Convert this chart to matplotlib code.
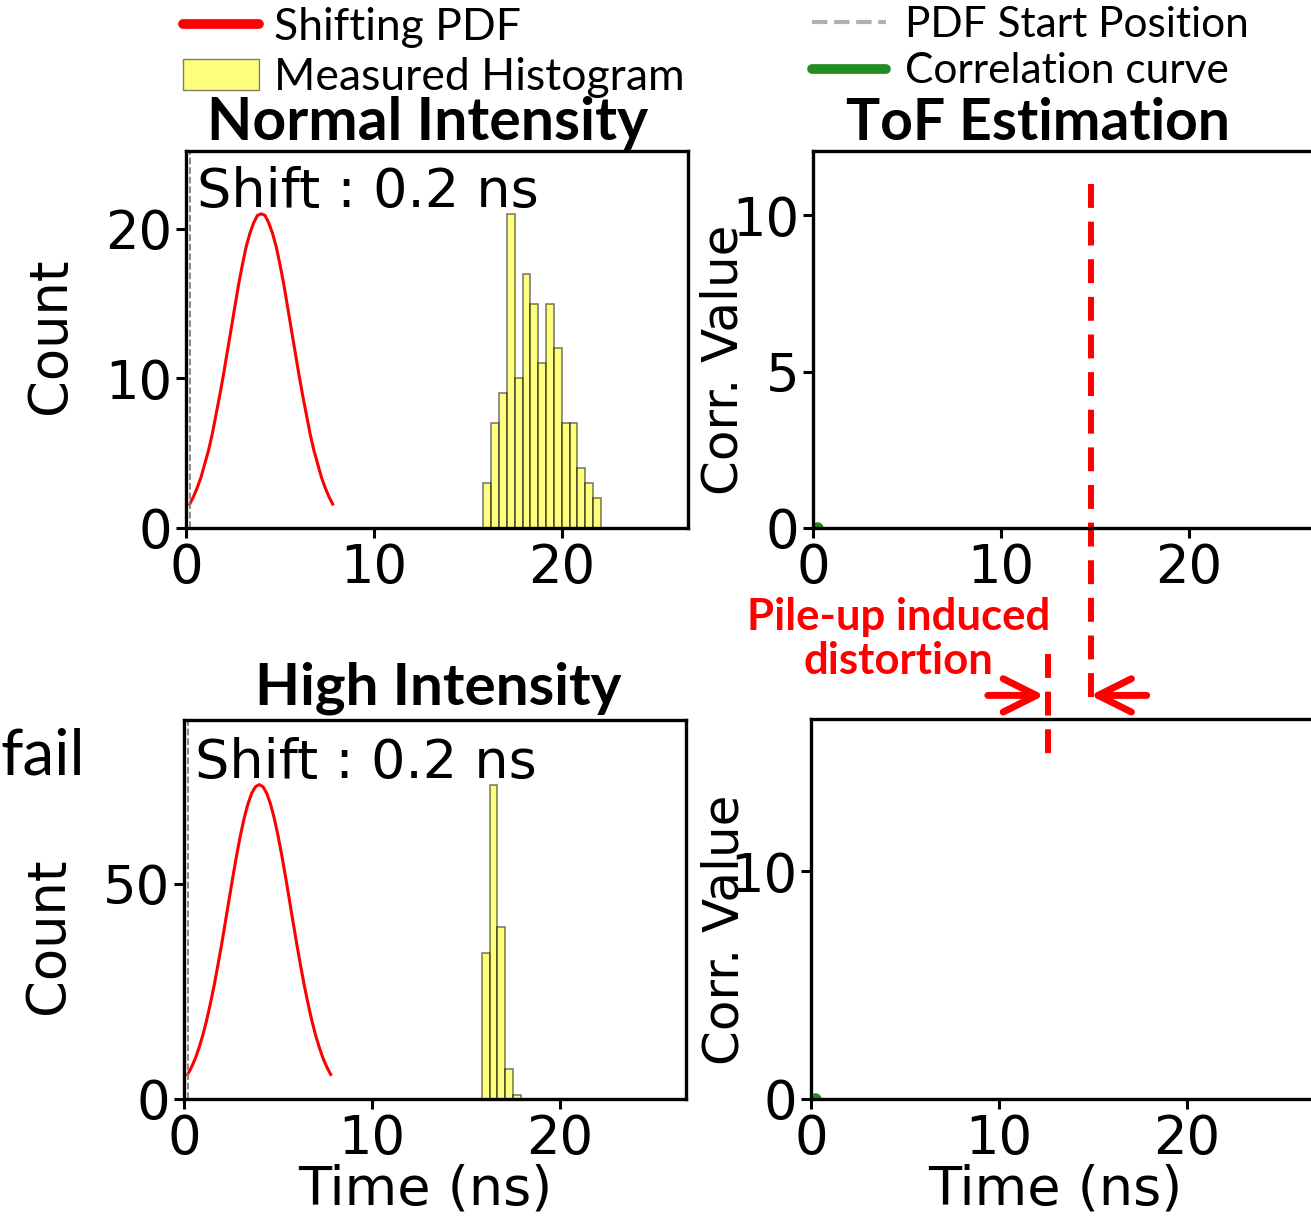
import matplotlib
matplotlib.use('Agg')
import matplotlib.pyplot as plt
from matplotlib.lines import Line2D
from matplotlib.patches import Patch

# shifting PDF (time in ns, count)
pdf_time = [0.2, 0.4, 0.6, 0.8, 1.0, 1.2, 1.4, 1.6, 1.8, 2.0, 2.2, 2.4, 2.6, 2.8,
            3.0, 3.2, 3.4, 3.6, 3.8, 4.0, 4.2, 4.4, 4.6, 4.8, 5.0, 5.2, 5.4,
            5.6, 5.8, 6.0, 6.2, 6.4, 6.6, 6.8, 7.0, 7.2, 7.4, 7.6, 7.8]
pdf_normal = [1.6, 2.1, 2.7, 3.4, 4.3, 5.2, 6.3, 7.6, 8.9, 10.3, 11.8, 13.3, 14.8,
              16.3, 17.6, 18.8, 19.7, 20.4, 20.9, 21.0, 20.9, 20.4, 19.7, 18.8,
              17.6, 16.3, 14.8, 13.3, 11.8, 10.3, 8.9, 7.6, 6.3, 5.2, 4.3, 3.4,
              2.7, 2.1, 1.6]
pdf_high = [5.7, 7.4, 9.4, 11.9, 14.8, 18.2, 22.1, 26.3, 31.0, 35.9, 41.1, 46.4,
            51.6, 56.6, 61.2, 65.2, 68.5, 71.0, 72.5, 73.0, 72.5, 71.0, 68.5,
            65.2, 61.2, 56.6, 51.6, 46.4, 41.1, 35.9, 31.0, 26.3, 22.1, 18.2,
            14.8, 11.9, 9.4, 7.4, 5.7]

# measured histograms
hist_normal_edges = [15.81, 16.23, 16.65, 17.06, 17.48, 17.90, 18.31, 18.73,
                     19.15, 19.56, 19.98, 20.40, 20.81, 21.23, 21.65, 22.06]
hist_normal_counts = [3, 7, 9, 21, 10, 17, 15, 11, 15, 12, 7, 7, 4, 3, 2]
hist_high_edges = [15.84, 16.25, 16.67, 17.08, 17.50, 17.91]
hist_high_counts = [34, 73, 40, 7, 1]

shift_ns = 0.2
corr_time = [0.2]
corr_normal = [0.0]
corr_high = [0.0]
tof_true = 14.8
tof_pileup = 12.5

W, H = 1311, 1220
fig = plt.figure(figsize=(W / 100, H / 100), dpi=100)

def px_axes(left, top, right, bottom):
    return fig.add_axes([left / W, 1 - bottom / H, (right - left) / W, (bottom - top) / H])

ax_tl = px_axes(186, 151, 688, 528)
ax_bl = px_axes(184, 720, 686, 1099)
ax_tr = px_axes(813, 151, 1315, 528)
ax_br = px_axes(811, 719, 1313, 1099)

title_font = 'Lato'

def style(ax, ylim, yticks):
    ax.set_xlim(0, 26.7)
    ax.set_ylim(0, ylim)
    ax.set_xticks([0, 10, 20])
    ax.set_yticks(yticks)
    ax.tick_params(labelsize=38, length=7, width=2.2, pad=3)
    for s in ax.spines.values():
        s.set_linewidth(2.4)

def hist(ax, edges, counts):
    widths = [edges[i + 1] - edges[i] for i in range(len(counts))]
    ax.bar(edges[:-1], counts, width=widths, align='edge', color='yellow',
           alpha=0.5, edgecolor='black', linewidth=1.2)

# left column: PDF vs histogram
for ax, pdf, edges, counts, ylim, yt in [
        (ax_tl, pdf_normal, hist_normal_edges, hist_normal_counts, 25.2, [0, 10, 20]),
        (ax_bl, pdf_high, hist_high_edges, hist_high_counts, 88, [0, 50])]:
    hist(ax, edges, counts)
    ax.plot(pdf_time, pdf, color='red', lw=2.2)
    ax.axvline(shift_ns, color='grey', ls='--', lw=1.3)
    style(ax, ylim, yt)
    ax.text(0.022, 0.851 if ax is ax_tl else 0.847, f'Shift : {shift_ns} ns',
            transform=ax.transAxes, fontsize=39, ha='left', va='baseline')

ax_tl.set_ylabel('Count', fontsize=38)
ax_tl.yaxis.set_label_coords(-0.22, 0.51)
ax_bl.set_ylabel('Count', fontsize=38)
ax_bl.yaxis.set_label_coords(-0.22, 0.43)
ax_bl.set_xlabel('Time (ns)', fontsize=39)
ax_bl.xaxis.set_label_coords(0.48, -0.17)

# right column: correlation
ax_tr.plot(corr_time, corr_normal, color='forestgreen', marker='o', ms=8, lw=4)
ax_br.plot(corr_time, corr_high, color='forestgreen', marker='o', ms=8, lw=4)
style(ax_tr, 12.05, [0, 5, 10])
style(ax_br, 16.67, [0, 10])
ax_tr.set_ylabel('Corr. Value', fontsize=36)
ax_tr.yaxis.set_label_coords(-0.131, 0.447)
ax_br.set_ylabel('Corr. Value', fontsize=36)
ax_br.yaxis.set_label_coords(-0.124, 0.445)
ax_br.set_xlabel('Time (ns)', fontsize=39)
ax_br.xaxis.set_label_coords(0.486, -0.17)

# titles
ax_tl.text(0.482, 1.029, 'Normal Intensity', transform=ax_tl.transAxes, ha='center',
           va='baseline', fontsize=42.5, fontweight='bold', family=title_font)
ax_tr.text(0.448, 1.029, 'ToF Estimation', transform=ax_tr.transAxes, ha='center',
           va='baseline', fontsize=41, fontweight='bold', family=title_font)
ax_bl.text(0.506, 1.04, 'High Intensity', transform=ax_bl.transAxes, ha='center',
           va='baseline', fontsize=42, fontweight='bold', family=title_font)
fig.text(0.0, 0.3648, 'fail', fontsize=46, family=title_font, ha='left', va='baseline')

# pile-up distortion annotation
xt = ax_tr.get_xaxis_transform()
ax_tr.plot([tof_true, tof_true], [0.912, -0.468], transform=xt, color='red',
           lw=4.3, dashes=(4, 2.3), clip_on=False)
xb = ax_br.get_xaxis_transform()
ax_br.plot([tof_pileup + 0.1, tof_pileup + 0.1], [1.171, 0.887], transform=xb, color='red',
           lw=4.3, dashes=(4, 2.3), clip_on=False)
arrow = dict(arrowstyle='->', color='red', lw=5, mutation_scale=60, shrinkA=0, shrinkB=0)
ax_tr.annotate('', xy=(tof_pileup - 0.2, -0.444), xytext=(tof_pileup - 3.2, -0.444),
               xycoords=xt, textcoords=xt, arrowprops=arrow, annotation_clip=False)
ax_tr.annotate('', xy=(tof_true - 0.05, -0.444), xytext=(tof_true + 2.95, -0.444),
               xycoords=xt, textcoords=xt, arrowprops=arrow, annotation_clip=False)
ax_tr.text(4.57, -0.294, 'Pile-up induced\ndistortion', transform=xt, color='red',
           fontsize=31.5, fontweight='bold', family=title_font, ha='center', va='center',
           linespacing=1.12)

# legends
left_handles = [Line2D([], [], color='red', lw=7, solid_capstyle='round'),
                Patch(facecolor='yellow', alpha=0.5, edgecolor='black')]
fig.legend(left_handles, ['Shifting PDF', 'Measured Histogram'], loc='upper left',
           bbox_to_anchor=(183 / W, 1 - 7 / H), frameon=False, borderpad=0, borderaxespad=0,
           prop={'family': title_font, 'size': 32}, handlelength=1.7,
           handletextpad=0.35, labelspacing=0.2)
right_handles = [Line2D([], [], color='#b0b0b0', lw=3, ls='--'),
                 Line2D([], [], color='forestgreen', lw=7, solid_capstyle='round')]
fig.legend(right_handles, ['PDF Start Position', 'Correlation curve'], loc='upper left',
           bbox_to_anchor=(812 / W, 1 - 6 / H), frameon=False, borderpad=0, borderaxespad=0,
           prop={'family': title_font, 'size': 30.5}, handlelength=1.75,
           handletextpad=0.45, labelspacing=0.2)

fig.savefig('out.png', dpi=100)
